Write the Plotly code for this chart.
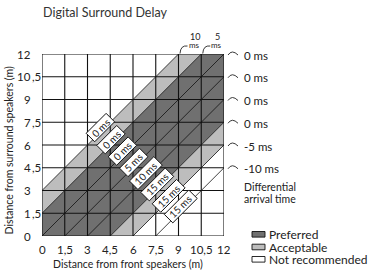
import math
import plotly.graph_objects as go

# ---------------- data ----------------
tick_vals = [0, 1.5, 3, 4.5, 6, 7.5, 9, 10.5, 12]
tick_labels = ["0", "1,5", "3", "4,5", "6", "7,5", "9", "10,5", "12"]

# bands expressed as offsets c of the lines y = x + c
preferred_bands = [(-4.5, 1.5)]
acceptable_bands = [(1.5, 3), (-6, -4.5)]

diag_offsets = [3, 1.5, 0, -1.5, -3, -4.5, -6, -7.5]
diag_labels = ["0 ms", "0 ms", "0 ms", "5 ms", "10 ms", "15 ms", "15 ms", "15 ms"]
diag_label_x = [3.85, 4.55, 5.3, 6.05, 6.85, 7.6, 8.35, 9.15]

right_vals = [12, 10.5, 9, 7.5, 6, 4.5]
right_labels = ["0 ms", "0 ms", "0 ms", "0 ms", "-5 ms", "-10 ms"]

top_vals = [9, 10.5]
top_numbers = ["10", "5"]

legend_names = ["Preferred", "Acceptable", "Not recommended"]

# ---------------- style ----------------
DARK = "#707070"
LIGHT = "#bdbdbd"
WHITE = "#ffffff"
INK = "#222222"
FONT = "Lato"
LO, HI = 0, 12

W, H = 377, 271
ML, MR, MT, MB = 42, 153, 54, 35
PW = W - ML - MR
PH = H - MT - MB
SCALE = PW / (HI - LO)  # px per metre


def px_x(px):
    return (px - ML) / PW


def px_y(py):
    return (H - MB - py) / PH


def band_polygon(a, b):
    x0 = max(LO, LO - b)
    x1 = min(HI, HI - a)
    cands = [LO - a, HI - b, LO - b, HI - a]
    bps = sorted(set([x0, x1] + [v for v in cands if x0 < v < x1]))
    upper = [(x, min(HI, x + b)) for x in bps]
    lower = [(x, max(LO, x + a)) for x in reversed(bps)]
    pts = upper + lower
    return [p[0] for p in pts] + [pts[0][0]], [p[1] for p in pts] + [pts[0][1]]


fig = go.Figure()

for bands, col in ((acceptable_bands, LIGHT), (preferred_bands, DARK)):
    for a, b in bands:
        xs, ys = band_polygon(a, b)
        fig.add_trace(go.Scatter(x=xs, y=ys, mode="lines", fill="toself",
                                 fillcolor=col, line=dict(width=0, color=col),
                                 hoverinfo="skip", showlegend=False))

# diagonal lines
dx, dy = [], []
for c in diag_offsets:
    xa, ya = max(LO, LO - c), max(LO, LO + c)
    xb, yb = min(HI, HI - c), min(HI, HI + c)
    dx += [xa, xb, None]
    dy += [ya, yb, None]
fig.add_trace(go.Scatter(x=dx, y=dy, mode="lines",
                         line=dict(color="#111111", width=0.8),
                         hoverinfo="skip", showlegend=False))

# grid
gx, gy = [], []
for v in tick_vals:
    gx += [v, v, None]
    gy += [LO, HI, None]
    gx += [LO, HI, None]
    gy += [v, v, None]
fig.add_trace(go.Scatter(x=gx, y=gy, mode="lines",
                         line=dict(color="#111111", width=1.1),
                         hoverinfo="skip", showlegend=False))

ann = []
shapes = []

# diagonal labels in rotated boxes
s2 = math.sqrt(2)
for c, t, x in zip(diag_offsets, diag_labels, diag_label_x):
    yc = x + c + 0.3
    half_l = (6.3 * len(t) + 3) / 2 / SCALE
    half_t = 6.0 / SCALE
    ux, uy = 1 / s2, 1 / s2
    nx, ny = -1 / s2, 1 / s2
    corners = [
        (x - half_l * ux - half_t * nx, yc - half_l * uy - half_t * ny),
        (x + half_l * ux - half_t * nx, yc + half_l * uy - half_t * ny),
        (x + half_l * ux + half_t * nx, yc + half_l * uy + half_t * ny),
        (x - half_l * ux + half_t * nx, yc - half_l * uy + half_t * ny),
    ]
    path = "M " + " L ".join(f"{px},{py}" for px, py in corners) + " Z"
    shapes.append(dict(type="path", xref="x", yref="y", path=path,
                       fillcolor=WHITE, line=dict(color="#111111", width=1),
                       layer="above"))
    ann.append(dict(x=x, y=yc, xref="x", yref="y", text=t,
                    showarrow=False, textangle=-45,
                    font=dict(family=FONT, size=10, color=INK)))

# right labels + arcs
for v, t in zip(right_vals, right_labels):
    yp = v / 12
    ann.append(dict(x=px_x(242), y=yp, xref="paper", yref="paper", text=t,
                    showarrow=False, xanchor="left", yanchor="middle", yshift=-1,
                    font=dict(family=FONT, size=11.5, color=INK)))
    x0 = 1 + 4 / PW
    xc = 1 + 8 / PW
    x1 = 1 + 14 / PW
    shapes.append(dict(type="path", xref="paper", yref="paper",
                       path=f"M {x0},{yp - 1/PH} Q {xc},{yp + 5/PH} {x1},{yp - 1/PH}",
                       line=dict(color=INK, width=0.9)))

# top labels + arcs
for v, n in zip(top_vals, top_numbers):
    xp = v / 12
    ann.append(dict(x=xp, y=1, xref="paper", yref="paper", text=n,
                    showarrow=False, xanchor="center", yanchor="middle",
                    xshift=16, yshift=17.5,
                    font=dict(family=FONT, size=9, color=INK)))
    ann.append(dict(x=xp, y=1, xref="paper", yref="paper", text="ms",
                    showarrow=False, xanchor="center", yanchor="middle",
                    xshift=15.5, yshift=9,
                    font=dict(family=FONT, size=8, color=INK)))
    shapes.append(dict(type="path", xref="paper", yref="paper",
                       path=(f"M {xp + 1.5/PW},{1 + 0.5/PH} "
                             f"Q {xp + 2/PW},{1 + 9/PH} {xp + 9/PW},{1 + 8/PH}"),
                       line=dict(color=INK, width=0.9)))

# tick labels
for v, t in zip(tick_vals, tick_labels):
    ann.append(dict(x=v, y=0, xref="x", yref="paper", text=t, showarrow=False,
                    xanchor="center", yanchor="middle", yshift=-13.5,
                    font=dict(family=FONT, size=11.5, color=INK)))
    ip, _, dp = t.partition(",")
    ann.append(dict(x=px_x(32.5), y=v / 12, xref="paper", yref="paper", text=ip,
                    showarrow=False, xanchor="right", yanchor="middle",
                    font=dict(family=FONT, size=11.5, color=INK)))
    if dp:
        ann.append(dict(x=px_x(29.5), y=v / 12, xref="paper", yref="paper",
                        text="," + dp, showarrow=False, xanchor="left",
                        yanchor="middle",
                        font=dict(family=FONT, size=11.5, color=INK)))

# axis titles, title, side note
ann.append(dict(x=px_x(127.5), y=px_y(264), xref="paper", yref="paper",
                text="Distance from front speakers (m)", showarrow=False,
                xanchor="center", yanchor="middle",
                font=dict(family=FONT, size=10.5, color=INK)))
ann.append(dict(x=px_x(8.5), y=px_y(150), xref="paper", yref="paper",
                text="Distance from surround speakers (m)", showarrow=False,
                textangle=-90, xanchor="center", yanchor="middle",
                font=dict(family=FONT, size=10.5, color=INK)))
ann.append(dict(x=px_x(41), y=px_y(13), xref="paper", yref="paper",
                text="Digital Surround Delay", showarrow=False,
                xanchor="left", yanchor="middle",
                font=dict(family=FONT, size=12.5, color="#333333")))
ann.append(dict(x=px_x(242), y=px_y(186.7), xref="paper", yref="paper",
                text="Differential", showarrow=False,
                xanchor="left", yanchor="middle",
                font=dict(family=FONT, size=10.5, color=INK)))
ann.append(dict(x=px_x(242), y=px_y(198.5), xref="paper", yref="paper",
                text="arrival time", showarrow=False,
                xanchor="left", yanchor="middle",
                font=dict(family=FONT, size=10.5, color=INK)))

# legend
leg_cols = [DARK, LIGHT, WHITE]
leg_y = [234.3, 247.0, 259.3]
for name, col, yc in zip(legend_names, leg_cols, leg_y):
    shapes.append(dict(type="rect", xref="paper", yref="paper",
                       x0=px_x(252), x1=px_x(265),
                       y0=px_y(yc + 2.8), y1=px_y(yc - 2.8),
                       fillcolor=col, line=dict(color="#111111", width=0.9)))
    ann.append(dict(x=px_x(267), y=px_y(yc), xref="paper", yref="paper",
                    text=name, showarrow=False, xanchor="left",
                    yanchor="middle",
                    font=dict(family=FONT, size=12, color=INK)))

fig.update_layout(
    width=W, height=H,
    margin=dict(l=ML, r=MR, t=MT, b=MB, pad=0),
    paper_bgcolor="white", plot_bgcolor="white",
    showlegend=False,
    xaxis=dict(range=[LO, HI], showgrid=False, zeroline=False,
               showticklabels=False, ticks="", showline=False, fixedrange=True),
    yaxis=dict(range=[LO, HI], showgrid=False, zeroline=False,
               showticklabels=False, ticks="", showline=False, fixedrange=True),
    annotations=ann, shapes=shapes,
)

fig.write_html("out.html", config={"displayModeBar": False},
               post_script="document.body.style.margin='0';document.body.style.overflow='hidden';")
